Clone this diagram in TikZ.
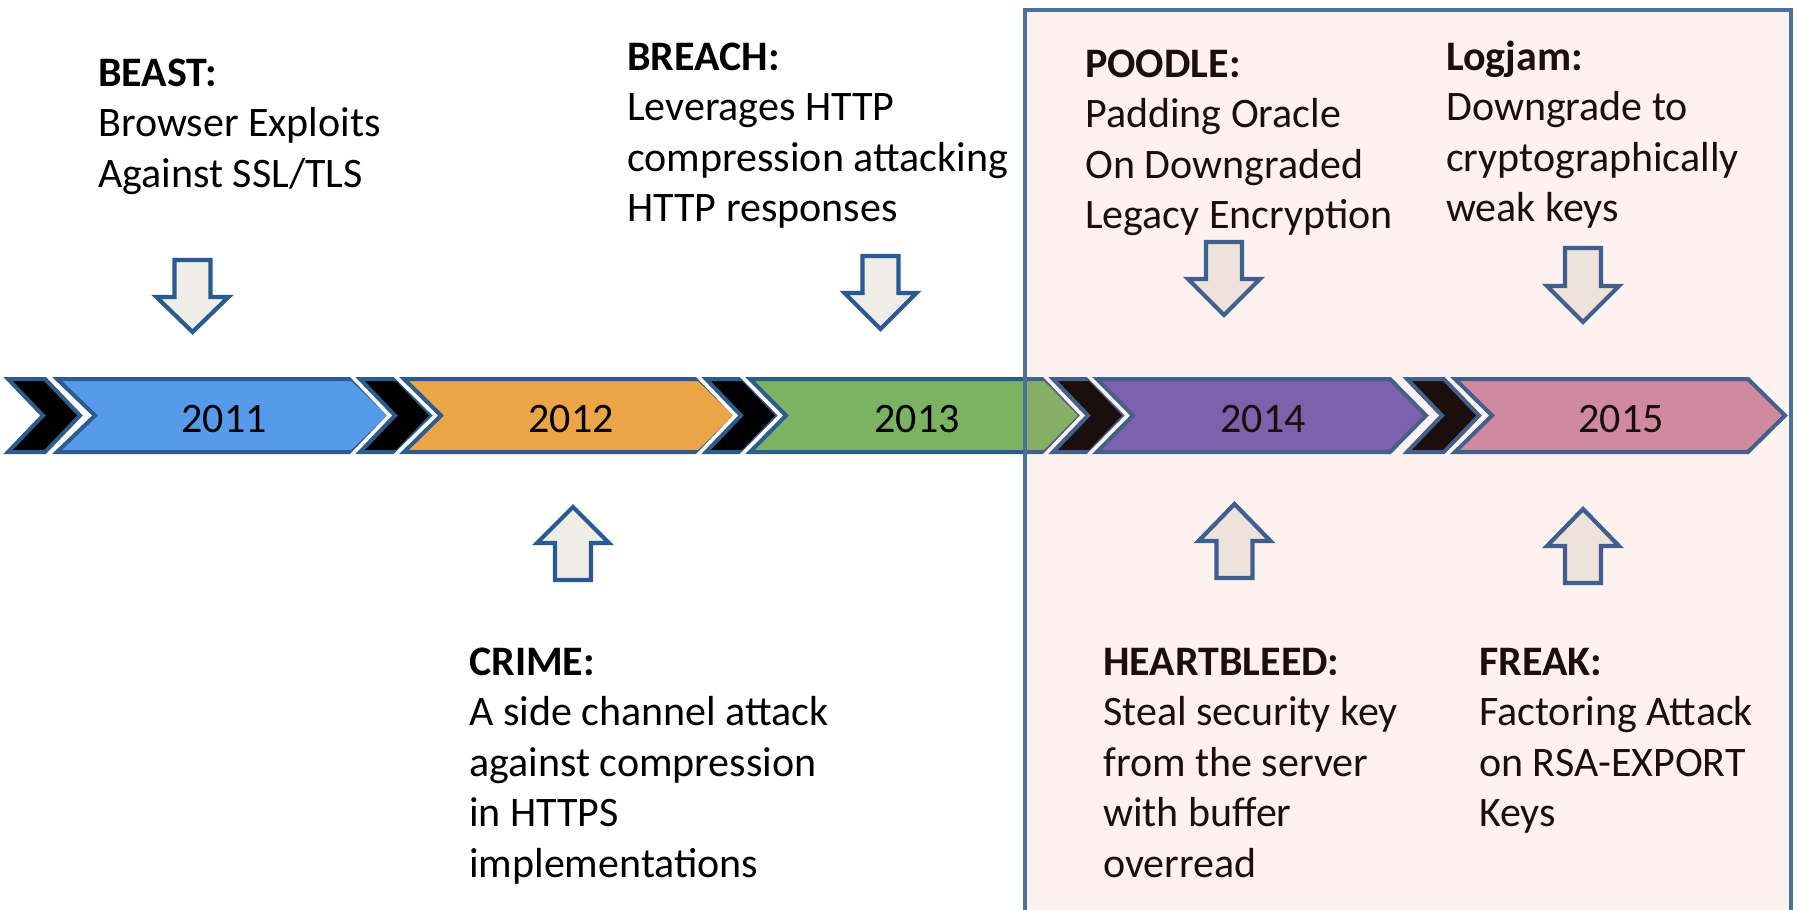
\documentclass[tikz,border=0pt]{standalone}
\usepackage{fontspec}
\setmainfont{Carlito}
\definecolor{chevline}{RGB}{44,92,140}
\definecolor{arrline}{RGB}{42,90,146}
\definecolor{arrfill}{RGB}{238,238,230}
\definecolor{boxline}{RGB}{74,112,160}
\definecolor{boxtint}{RGB}{238,138,122}
\definecolor{cblue}{RGB}{88,154,234}
\definecolor{corange}{RGB}{235,164,70}
\definecolor{cgreen}{RGB}{123,179,98}
\definecolor{cpurple}{RGB}{112,92,177}
\definecolor{cpink}{RGB}{204,137,165}
\tikzset{
  halo/.style={draw=white, line width=11.5pt, line join=miter},
  chevbox/.style={draw=chevline, line width=4pt, line join=miter},
  blockarrow/.style={draw=arrline, fill=arrfill, line width=4.2pt, line join=miter},
  yearlabel/.style={anchor=base, inner sep=0pt, font=\fontsize{42}{50.5}\selectfont},
  desc/.style={anchor=base west, inner sep=0pt, font=\fontsize{42}{50.5}\selectfont},
}
% chevron: #1 left x, #2 top length, #3 depth, #4 fill
\newcommand\tlchev[4]{%
  \path[halo] (#1,379) -- ++(#2,0) -- ++(#3,36.5) -- ++(-#3,36.5) -- ++(-#2,0) -- ++(#3,-36.5) -- cycle;
  \path[chevbox, fill=#4] (#1,379) -- ++(#2,0) -- ++(#3,36.5) -- ++(-#3,36.5) -- ++(-#2,0) -- ++(#3,-36.5) -- cycle;
}
% down arrow: #1 centre x, #2 top, #3 shoulder, #4 tip
\newcommand\tldown[4]{%
  \path[blockarrow] (#1-18,#2) -- (#1+18,#2) -- (#1+18,#3) -- (#1+36,#3) -- (#1,#4) -- (#1-36,#3) -- (#1-18,#3) -- cycle;
}
% up arrow: #1 centre x, #2 tip, #3 shoulder, #4 bottom
\newcommand\tlup[4]{%
  \path[blockarrow] (#1,#2) -- (#1+36,#3) -- (#1+18,#3) -- (#1+18,#4) -- (#1-18,#4) -- (#1-18,#3) -- (#1-36,#3) -- cycle;
}
\begin{document}
\begin{tikzpicture}[x=1pt,y=-1pt]
\useasboundingbox[fill=white] (0,0) rectangle (1796,910);

% timeline chevrons
\tlchev{8}{37}{35}{black}
\tlchev{57}{295}{38}{cblue}
\tlchev{360}{37}{35}{black}
\tlchev{404}{295}{37}{corange}
\tlchev{706}{37}{35}{black}
\tlchev{750}{295}{36}{cgreen}
\tlchev{1053}{37}{35}{black}
\tlchev{1097}{293}{36}{cpurple}
\tlchev{1407}{37}{35}{black}
\tlchev{1455}{293}{37}{cpink}

\node[yearlabel] (y2011) at (224,432) {2011};
\node[yearlabel] (y2012) at (571,432) {2012};
\node[yearlabel] (y2013) at (917,432) {2013};
\node[yearlabel] (y2014) at (1263,432) {2014};
\node[yearlabel] (y2015) at (1621,432) {2015};

% arrows
\tldown{192.5}{260}{297}{332}
\tldown{880.5}{256}{293}{329}
\tldown{1224}{242}{279}{315}
\tldown{1583}{248}{286}{322}
\tlup{573}{507}{543}{580}
\tlup{1234.5}{504}{541}{578}
\tlup{1583}{509}{546}{583}

% descriptions
\node[desc] (beast) at (98,86) {\begin{tabular}[t]{@{}l@{}}\textbf{BEAST:}\\Browser Exploits\\Against SSL/TLS\end{tabular}};
\node[desc] (breach) at (627,70) {\begin{tabular}[t]{@{}l@{}}\textbf{BREACH:}\\Leverages HTTP\\compression attacking\\HTTP responses\end{tabular}};
\node[desc] (poodle) at (1085,77) {\begin{tabular}[t]{@{}l@{}}\textbf{POODLE:}\\Padding Oracle\\On Downgraded\\Legacy Encryption\end{tabular}};
\node[desc] (logjam) at (1446,70) {\begin{tabular}[t]{@{}l@{}}\textbf{Logjam:}\\Downgrade to\\cryptographically\\weak keys\end{tabular}};
\node[desc] (crime) at (469,675) {\begin{tabular}[t]{@{}l@{}}\textbf{CRIME:}\\A side channel attack\\against compression\\in HTTPS\\implementations\end{tabular}};
\node[desc] (heartbleed) at (1103,675) {\begin{tabular}[t]{@{}l@{}}\textbf{HEARTBLEED:}\\Steal security key\\from the server\\with buffer\\overread\end{tabular}};
\node[desc] (freak) at (1479,675) {\begin{tabular}[t]{@{}l@{}}\textbf{FREAK:}\\Factoring Attack\\on RSA-EXPORT\\Keys\end{tabular}};

% highlight box for 2014-2015
\fill[boxtint, fill opacity=0.11] (1025,9.5) rectangle (1791,930);
\draw[boxline, line width=4pt] (1025,9.5) rectangle (1791,930);
\end{tikzpicture}
\end{document}
